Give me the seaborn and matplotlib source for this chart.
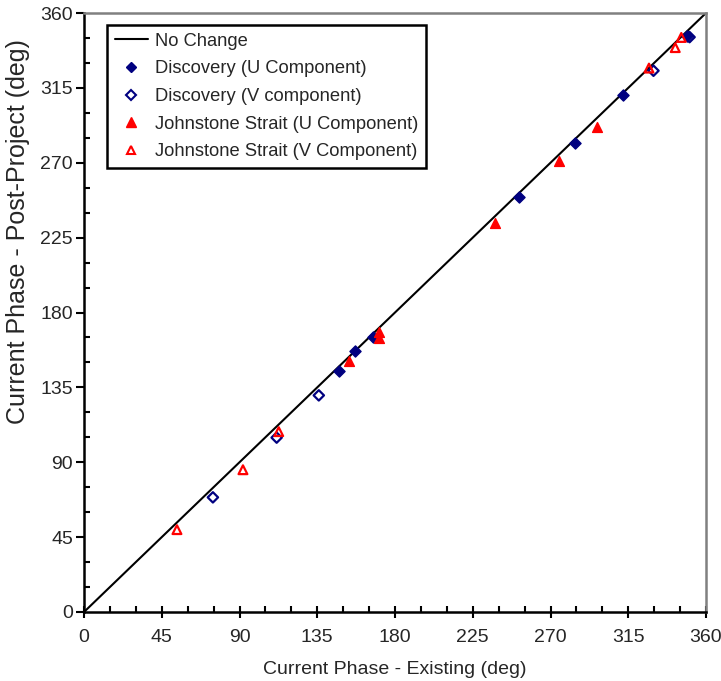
import matplotlib
matplotlib.use("Agg")
import matplotlib.pyplot as plt
from matplotlib.lines import Line2D
from matplotlib.ticker import MultipleLocator
import seaborn as sns
import pandas as pd

sns.set_theme(style="white")
plt.rcParams['font.family'] = ['Liberation Sans', 'DejaVu Sans']

line_x = [0, 360]
line_y = [0, 360]

disc_u_x = [147.5, 156.6, 167.0, 251.9, 284.2, 311.9, 349.0]
disc_u_y = [144.7, 156.9, 165.3, 249.4, 281.9, 310.7, 346.1]

disc_v_x = [74.6, 111.5, 135.9, 329.6, 350.5]
disc_v_y = [68.9, 104.8, 130.2, 325.3, 345.5]

john_u_x = [153.4, 170.8, 170.8, 238.0, 275.0, 296.8]
john_u_y = [150.7, 168.3, 164.9, 233.5, 271.0, 291.5]

john_v_x = [53.8, 92.0, 112.7, 327.0, 342.2, 345.7]
john_v_y = [49.5, 85.5, 108.4, 326.9, 339.2, 345.3]

labels = ["No Change", "Discovery (U Component)", "Discovery (V component)",
          "Johnstone Strait (U Component)", "Johnstone Strait (V Component)"]
ticks = [0, 45, 90, 135, 180, 225, 270, 315, 360]

navy = "#000080"
red = "#FF0000"

fig = plt.figure(figsize=(7.21, 6.81), dpi=100)
ax = fig.add_axes([84/721, 1-612/681, 622/721, 599/681])

sns.lineplot(x=line_x, y=line_y, ax=ax, color="black", linewidth=1.5, zorder=2)
sns.scatterplot(x=disc_u_x, y=disc_u_y, ax=ax, marker="D", s=32, color=navy,
                edgecolor=navy, linewidth=1, zorder=3)
sns.scatterplot(x=disc_v_x, y=disc_v_y, ax=ax, marker="D", s=28, facecolor="none",
                edgecolor=navy, linewidth=1.6, zorder=3)
sns.scatterplot(x=john_u_x, y=john_u_y, ax=ax, marker="^", s=50, color=red,
                edgecolor=red, linewidth=1, zorder=3)
sns.scatterplot(x=john_v_x, y=john_v_y, ax=ax, marker="^", s=40, facecolor="none",
                edgecolor=red, linewidth=1.6, zorder=3)

ax.set_xlim(0, 360)
ax.set_ylim(0, 360)
ax.set_xticks(ticks)
ax.set_yticks(ticks)
ax.set_xticklabels([str(t) for t in ticks])
ax.set_yticklabels([str(t) for t in ticks])
ax.xaxis.set_minor_locator(MultipleLocator(15))
ax.yaxis.set_minor_locator(MultipleLocator(15))
ax.tick_params(axis="x", which="major", direction="inout", length=8, width=1.5,
               color="black", labelsize=14, bottom=True, pad=8)
ax.tick_params(axis="y", which="major", direction="out", length=6, width=1.5,
               color="black", labelsize=14, left=True, pad=2)
ax.tick_params(which="minor", direction="in", length=4, width=1.5, color="black",
               bottom=True, left=True)
ax.set_xlabel("Current Phase - Existing (deg)", fontsize=14, labelpad=11)
ax.set_ylabel("Current Phase - Post-Project (deg)", fontsize=18)
ax.yaxis.set_label_coords(-0.087, 0.635)

for side in ["left", "bottom"]:
    ax.spines[side].set_color("black")
    ax.spines[side].set_linewidth(1.8)
for side in ["top", "right"]:
    ax.spines[side].set_color("#808080")
    ax.spines[side].set_linewidth(1.8)
    ax.spines[side].set_visible(True)
ax.grid(False)

handles = [
    Line2D([0], [0], color="black", linewidth=1.5),
    Line2D([0], [0], marker="D", linestyle="none", markersize=5.5, color=navy),
    Line2D([0], [0], marker="D", linestyle="none", markersize=5, markerfacecolor="none",
           markeredgecolor=navy, markeredgewidth=1.5),
    Line2D([0], [0], marker="^", linestyle="none", markersize=7, color=red),
    Line2D([0], [0], marker="^", linestyle="none", markersize=6, markerfacecolor="none",
           markeredgecolor=red, markeredgewidth=1.5),
]
leg = ax.legend(handles, labels, loc="upper left", bbox_to_anchor=(23/622, 1-12/599),
                fontsize=13.2, frameon=True, fancybox=False, edgecolor="black",
                framealpha=1, borderpad=0.42, labelspacing=0.58, handlelength=1.8,
                handletextpad=0.4, borderaxespad=0)
leg.get_frame().set_linewidth(1.8)

fig.savefig("out.png", dpi=100)
